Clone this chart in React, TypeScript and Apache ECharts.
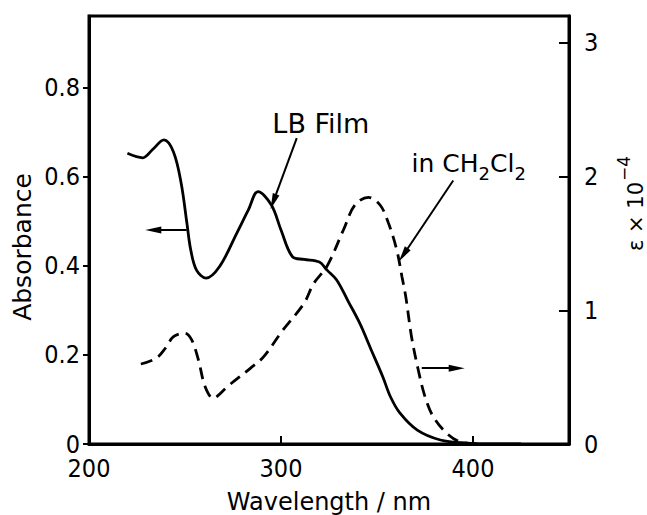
import React, { useEffect, useRef } from 'react';
import * as echarts from 'echarts';

// LB film spectrum (left axis, absorbance)
const lbWavelength = [220, 228, 233, 239, 244, 248, 251, 253, 256, 261, 268, 277, 283, 288, 295, 300, 306, 312, 320, 324, 329, 335, 341, 347, 353, 357, 362, 371, 383, 397, 410, 425];
const lbAbsorbance = [0.652, 0.642, 0.66, 0.682, 0.655, 0.585, 0.495, 0.435, 0.39, 0.372, 0.398, 0.473, 0.525, 0.566, 0.536, 0.48, 0.42, 0.414, 0.408, 0.39, 0.368, 0.32, 0.271, 0.211, 0.151, 0.106, 0.069, 0.031, 0.009, 0.002, 0.0, 0.0];

// CH2Cl2 solution spectrum (right axis, epsilon x 10^-4)
const solWavelength = [227, 235, 240, 244, 250, 253.5, 257, 260.5, 264.7, 267, 272, 284, 291, 301, 312, 317, 324, 332.5, 338.5, 345.5, 351.6, 356, 360.3, 363, 365, 368, 371.5, 375, 379.3, 386.3, 393, 402];
const solEpsilon = [0.598, 0.641, 0.72, 0.802, 0.828, 0.778, 0.628, 0.428, 0.342, 0.36, 0.428, 0.566, 0.653, 0.852, 1.052, 1.2, 1.33, 1.6, 1.787, 1.844, 1.787, 1.65, 1.45, 1.25, 1.1, 0.8, 0.553, 0.354, 0.204, 0.08, 0.017, 0];

// Axis ranges and tick labels
const wlRange = [200, 450];
const absRange = [0, 0.96];
const epsRange = [0, 3.2];
const wlTicks = [200, 300, 400];
const absTicks = [0, 0.2, 0.4, 0.6, 0.8];
const epsTicks = [0, 1, 2, 3];

// Annotation arrows in data coordinates (wavelength, absorbance): [from, to]
const arrowFrom = [[308.2, 0.686], [389.7, 0.591], [250.9, 0.48], [373.3, 0.17]];
const arrowTo = [[296, 0.5435], [363.7, 0.424], [233.5, 0.48], [391.5, 0.17]];

// Text labels anchored in data coordinates
const lbLabelAt = [295.5, 0.72];
const solLabelAt = [368, 0.63];

const COND = '"DejaVu Sans Condensed", Roboto, sans-serif';
const SANS = '"DejaVu Sans", sans-serif';

function textWidth(text: string, fontSize: number, fontFamily: string): number {
  const t = new (echarts.graphic as any).Text({ style: { text, fontSize, fontFamily } });
  return t.getBoundingRect().width;
}

export default function App() {
  const ref = useRef<HTMLDivElement>(null);
  useEffect(() => {
    if (!ref.current) return;
    const chart = echarts.init(ref.current, undefined, { renderer: 'svg' });
    const option: any = {
      animation: false,
      backgroundColor: '#fff',
      grid: { left: 89, top: 16, right: 78, bottom: 71, containLabel: false, outerBoundsMode: 'none', show: true, borderColor: '#000', borderWidth: 3, backgroundColor: 'transparent' },
      xAxis: {
        type: 'value', min: wlRange[0], max: wlRange[1], interval: 100,
        axisLine: { show: true, lineStyle: { color: '#000', width: 3 } },
        axisTick: { show: true, inside: true, length: 8, customValues: wlTicks, lineStyle: { color: '#000', width: 2 } },
        axisLabel: { color: '#000', fontSize: 25, fontFamily: COND, margin: 13, lineHeight: 22, customValues: wlTicks },
        splitLine: { show: false },
        name: 'Wavelength / nm', nameLocation: 'middle', nameGap: 46,
        nameTextStyle: { color: '#000', fontSize: 24, fontFamily: SANS },
      },
      yAxis: [
        {
          type: 'value', min: absRange[0], max: absRange[1], interval: 0.2, position: 'left',
          axisLine: { show: true, lineStyle: { color: '#000', width: 3 } },
          axisTick: { show: true, inside: false, length: 6, customValues: absTicks, lineStyle: { color: '#000', width: 2 } },
          axisLabel: { color: '#000', fontSize: 25, fontFamily: COND, margin: 9, lineHeight: 20, customValues: absTicks, formatter: (v: number) => (v === 0 ? '0' : v.toFixed(1)) },
          splitLine: { show: false },
        },
        {
          type: 'value', min: epsRange[0], max: epsRange[1], interval: 1, position: 'right',
          axisLine: { show: true, lineStyle: { color: '#000', width: 3 } },
          axisTick: { show: true, inside: true, length: 10, customValues: epsTicks, lineStyle: { color: '#000', width: 2 } },
          axisLabel: { color: '#000', fontSize: 25, fontFamily: COND, margin: 15, lineHeight: 20, customValues: epsTicks },
          splitLine: { show: false },
        },
      ],
      series: [
        {
          type: 'line', name: 'LB Film', yAxisIndex: 0, showSymbol: false, smooth: 0.35,
          data: lbWavelength.map((w, i) => [w, lbAbsorbance[i]]),
          lineStyle: { color: '#000', width: 2.8 },
          markLine: {
            silent: true, animation: false,
            symbol: ['none', 'triangle'], symbolSize: [7, 16],
            label: { show: false },
            lineStyle: { color: '#000', width: 2, type: 'solid' },
            emphasis: { disabled: true },
            data: arrowFrom.map((f, i) => [{ coord: f }, { coord: arrowTo[i] }]),
          },
        },
        {
          type: 'line', name: 'in CH2Cl2', yAxisIndex: 1, showSymbol: false, smooth: 0.35,
          data: solWavelength.map((w, i) => [w, solEpsilon[i]]),
          lineStyle: { color: '#000', width: 2.8, type: [12, 7] },
        },
      ],
    };
    chart.setOption(option);
    const p1 = chart.convertToPixel({ xAxisIndex: 0, yAxisIndex: 0 }, lbLabelAt) as number[];
    const p2 = chart.convertToPixel({ xAxisIndex: 0, yAxisIndex: 0 }, solLabelAt) as number[];

    // in CH2Cl2 label pieces
    const mainFs = 25, subFs = 18;
    const w1 = textWidth('in CH', mainFs, SANS);
    const w2 = textWidth('2', subFs, SANS);
    const w3 = textWidth('Cl', mainFs, SANS);
    const subDy = 10;
    // epsilon label pieces
    const epsFs = 21, supFs = 17;
    const we = textWidth('ε × 10', epsFs, SANS);

    chart.setOption({
      graphic: [
        { type: 'text', x: 22, y: 247, rotation: Math.PI / 2, style: { text: 'Absorbance', fontSize: 25, fontFamily: SANS, fill: '#000', align: 'center', verticalAlign: 'middle' } },
        {
          type: 'group', x: 636, y: 251, rotation: Math.PI / 2,
          children: [
            { type: 'text', x: 0, y: 0, style: { text: 'ε × 10', fontSize: epsFs, lineHeight: 20, fontFamily: SANS, fill: '#000', align: 'left', verticalAlign: 'middle' } },
            { type: 'text', x: we + 1, y: -12, style: { text: '−4', fontSize: supFs, lineHeight: 16, fontFamily: SANS, fill: '#000', align: 'left', verticalAlign: 'middle' } },
          ],
        },
        { type: 'text', x: p1[0], y: p1[1], style: { text: 'LB Film', fontSize: 27, fontFamily: SANS, fill: '#000', align: 'left', verticalAlign: 'middle' } },
        {
          type: 'group', x: p2[0], y: p2[1],
          children: [
            { type: 'text', x: 0, y: 0, style: { text: 'in CH', fontSize: mainFs, fontFamily: SANS, fill: '#000', align: 'left', verticalAlign: 'middle' } },
            { type: 'text', x: w1, y: subDy, style: { text: '2', fontSize: subFs, fontFamily: SANS, fill: '#000', align: 'left', verticalAlign: 'middle' } },
            { type: 'text', x: w1 + w2, y: 0, style: { text: 'Cl', fontSize: mainFs, fontFamily: SANS, fill: '#000', align: 'left', verticalAlign: 'middle' } },
            { type: 'text', x: w1 + w2 + w3, y: subDy, style: { text: '2', fontSize: subFs, fontFamily: SANS, fill: '#000', align: 'left', verticalAlign: 'middle' } },
          ],
        },
      ],
    });
    return () => chart.dispose();
  }, []);
  return <div ref={ref} style={{ position: 'fixed', left: 0, top: 0, width: 647, height: 515 }} />;
}
